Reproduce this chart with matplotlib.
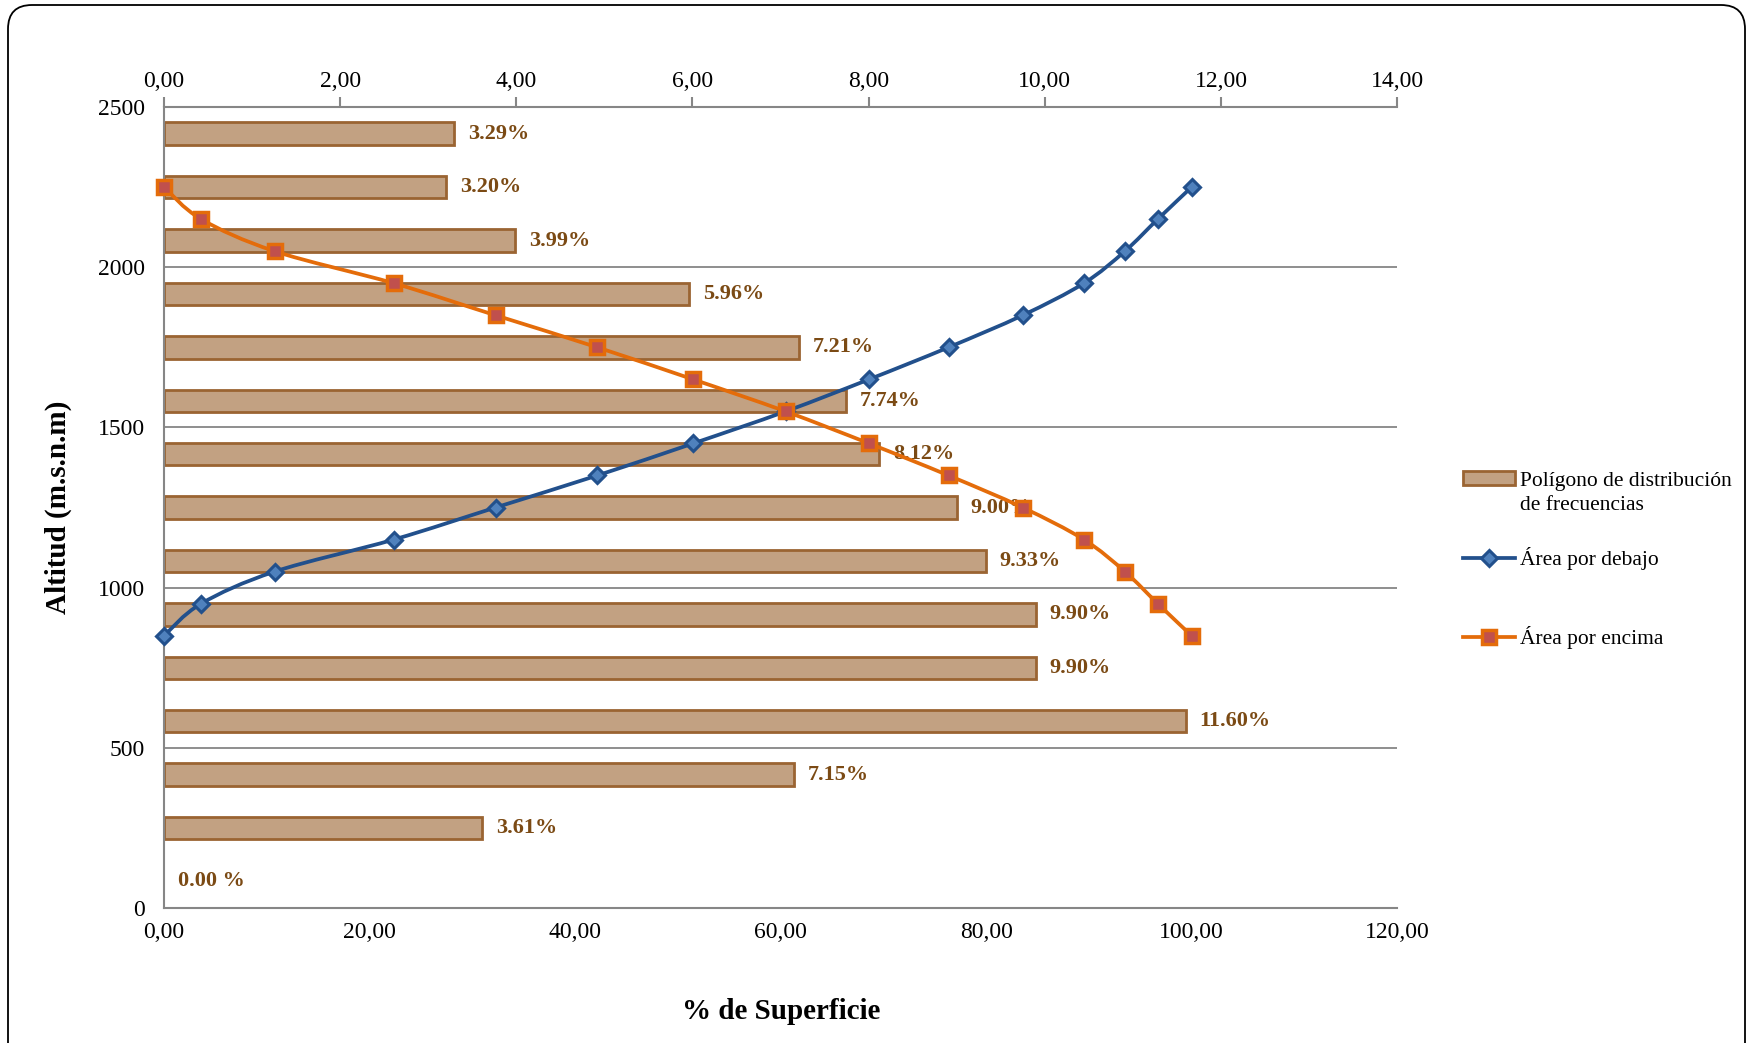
import numpy as np
import matplotlib
matplotlib.use("Agg")
import matplotlib.pyplot as plt
from matplotlib.path import Path
from matplotlib.patches import PathPatch, FancyBboxPatch, Patch
from matplotlib.lines import Line2D
from matplotlib.transforms import IdentityTransform

plt.rcParams["font.family"] = ["Liberation Serif", "DejaVu Serif"]

# Frequency polygon (% of basin area per altitude band), bottom band first
band_pct = [0.00, 3.61, 7.15, 11.60, 9.90, 9.90, 9.33, 9.00, 8.12, 7.74,
            7.21, 5.96, 3.99, 3.20, 3.29]

# Hypsometric curves
altitudes = [850, 950, 1050, 1150, 1250, 1350, 1450, 1550, 1650, 1750,
             1850, 1950, 2050, 2150, 2250]
area_debajo = [0.00, 3.61, 10.76, 22.36, 32.26, 42.16, 51.49, 60.49, 68.61,
               76.35, 83.56, 89.52, 93.51, 96.71, 100.00]
area_encima = [100.00, 96.71, 93.51, 89.52, 83.56, 76.35, 68.61, 60.49,
               51.49, 42.16, 32.26, 22.36, 10.76, 3.61, 0.00]

bottom_ticks = [0, 20, 40, 60, 80, 100, 120]
top_ticks = [0, 2, 4, 6, 8, 10, 12, 14]
y_ticks = [0, 500, 1000, 1500, 2000, 2500]

BAR_FACE = "#C2A182"
BAR_EDGE = "#9A6432"
LABEL_C = "#7B4A14"
BLUE = "#22508C"
BLUE_FACE = "#4F81BD"
ORANGE = "#E46C0A"
ORANGE_FACE = "#C0504D"
AXIS_C = "#868686"
FS = 17
LEG_FS = 15.5


def smooth_path(xs, ys, t=1 / 6):
    """Catmull-Rom style cubic Bezier through the points (Excel 'smoothed line')."""
    pts = np.column_stack([xs, ys]).astype(float)
    n = len(pts)
    verts = [pts[0]]
    codes = [Path.MOVETO]
    for i in range(n - 1):
        p_prev = pts[i - 1] if i > 0 else pts[i]
        p_next2 = pts[i + 2] if i + 2 < n else pts[i + 1]
        c1 = pts[i] + (pts[i + 1] - p_prev) * t
        c2 = pts[i + 1] - (p_next2 - pts[i]) * t
        verts += [c1, c2, pts[i + 1]]
        codes += [Path.CURVE4] * 3
    return Path(verts, codes)


def fmt_comma(v, _pos=None):
    return f"{v:.2f}".replace(".", ",")


fig = plt.figure(figsize=(17.47, 10.43), dpi=100, facecolor="white")
pos = [0.0939, 0.1294, 0.7058, 0.768]

# --- bars: frequency polygon on the top axis (0-14) ---
axb = fig.add_axes(pos)
n = len(band_pct)
ypos = np.arange(n) + 0.5
axb.barh(ypos, band_pct, height=0.42, color=BAR_FACE, edgecolor=BAR_EDGE,
         linewidth=[2.0 if v > 0 else 0 for v in band_pct], zorder=2)
axb.set_xlim(0, 14)
axb.set_ylim(0, n)
axb.xaxis.tick_top()
axb.set_xticks(top_ticks)
axb.xaxis.set_major_formatter(fmt_comma)
axb.tick_params(axis="x", direction="out", length=7, width=1.5, color=AXIS_C,
                labelsize=FS, pad=4)
axb.set_yticks([])
for s in ["left", "right", "bottom"]:
    axb.spines[s].set_visible(False)
axb.spines["top"].set_color(AXIS_C)
axb.spines["top"].set_linewidth(1.5)
for y, v in zip(ypos, band_pct):
    txt = f"{v:.2f}%" if v > 0 else f"{v:.2f} %"
    axb.annotate(txt, (v, y), xytext=(10, 0), textcoords="offset points",
                 ha="left", va="center", fontsize=16, fontweight="bold",
                 color=LABEL_C)

# --- lines: area curves on the bottom axis (0-120) ---
ax = fig.add_axes(pos)
ax.patch.set_alpha(0)
ax.set_xlim(0, 120)
ax.set_ylim(0, 2500)
ax.set_xticks(bottom_ticks)
ax.xaxis.set_major_formatter(fmt_comma)
ax.set_yticks(y_ticks)
ax.tick_params(axis="x", length=0, labelsize=FS, pad=10)
ax.tick_params(axis="y", length=0, labelsize=FS, pad=14)
for s in ["top", "right"]:
    ax.spines[s].set_visible(False)
for s in ["left", "bottom"]:
    ax.spines[s].set_color(AXIS_C)
    ax.spines[s].set_linewidth(1.5)
for yv in y_ticks[1:]:
    ax.axhline(yv, color=AXIS_C, linewidth=1.3, zorder=0)

ax.add_patch(PathPatch(smooth_path(area_debajo, altitudes), facecolor="none",
                       edgecolor=BLUE, linewidth=2.7, zorder=3, clip_on=False))
ax.plot(area_debajo, altitudes, linestyle="none", marker="D", markersize=8.5,
        markerfacecolor=BLUE_FACE, markeredgecolor=BLUE, markeredgewidth=2.2,
        zorder=4, clip_on=False)
ax.add_patch(PathPatch(smooth_path(area_encima, altitudes), facecolor="none",
                       edgecolor=ORANGE, linewidth=2.7, zorder=3, clip_on=False))
ax.plot(area_encima, altitudes, linestyle="none", marker="s", markersize=9.5,
        markerfacecolor=ORANGE_FACE, markeredgecolor=ORANGE, markeredgewidth=2.5,
        zorder=4, clip_on=False)

ax.set_ylabel("Altitud (m.s.n.m)", fontsize=21, fontweight="bold", labelpad=18)
fig.text(0.447, 0.030, "% de Superficie", fontsize=21, fontweight="bold",
         ha="center", va="center")

handles = [
    Patch(facecolor=BAR_FACE, edgecolor=BAR_EDGE, linewidth=2.0),
    Line2D([], [], color=BLUE, linewidth=2.7, marker="D", markersize=8.5,
           markerfacecolor=BLUE_FACE, markeredgecolor=BLUE, markeredgewidth=2.2),
    Line2D([], [], color=ORANGE, linewidth=2.7, marker="s", markersize=9.5,
           markerfacecolor=ORANGE_FACE, markeredgecolor=ORANGE, markeredgewidth=2.5),
]
labels = ["Polígono de distribución", "Área por debajo", "Área por encima"]
leg = fig.legend(handles, labels, loc="upper left", bbox_to_anchor=(0.8374, 0.548),
                 frameon=False, fontsize=LEG_FS, handlelength=2.4, handleheight=0.6,
                 handletextpad=0.26, labelspacing=2.6, borderpad=0, borderaxespad=0)

# second line of the first legend label, under its first line
fig.canvas.draw()
bb = leg.get_texts()[0].get_window_extent()
fig.text(bb.x0, bb.y0 - 5, "de frecuencias", transform=IdentityTransform(),
         fontsize=LEG_FS, ha="left", va="top")

# chart-area border with rounded corners
fig.patches.append(FancyBboxPatch((8, -40), 1737, 1078,
                                  boxstyle="round,pad=0,rounding_size=24",
                                  transform=IdentityTransform(), figure=fig,
                                  facecolor="none", edgecolor="black",
                                  linewidth=1.3))

fig.savefig("out.png", dpi=100, facecolor="white")
